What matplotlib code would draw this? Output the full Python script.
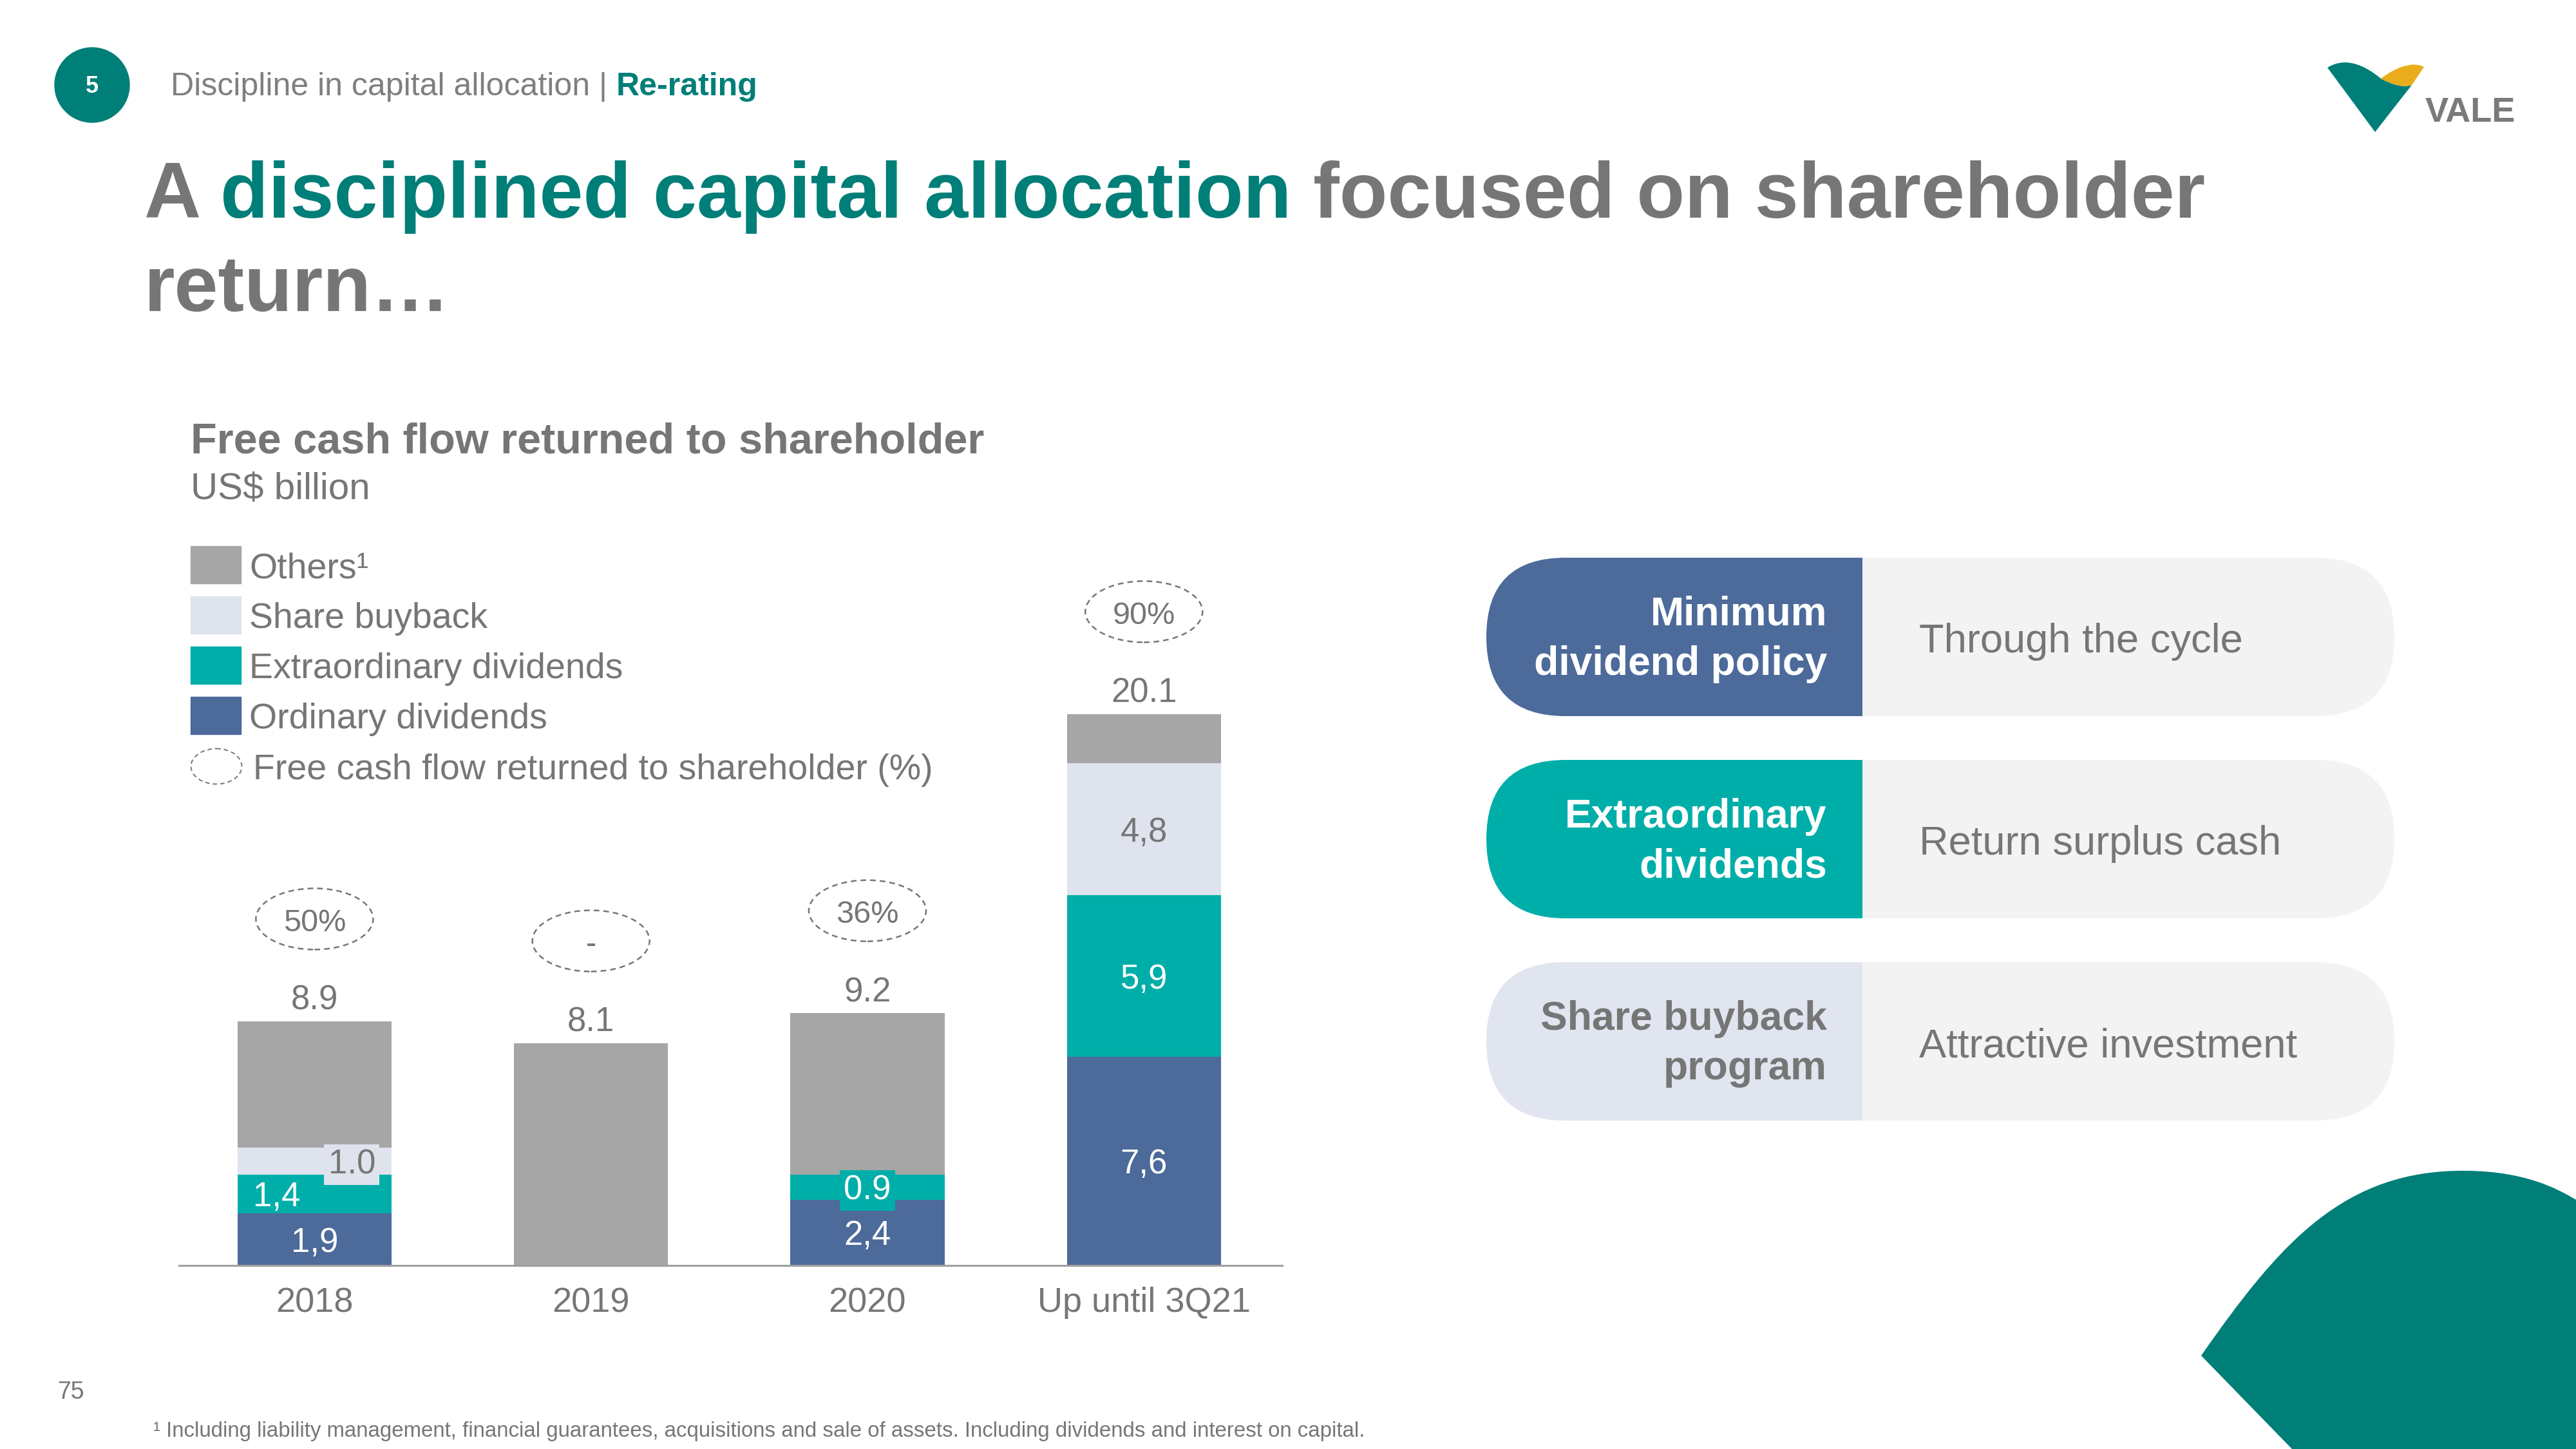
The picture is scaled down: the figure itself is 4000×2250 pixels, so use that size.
import matplotlib
matplotlib.use("Agg")
import matplotlib.pyplot as plt
import matplotlib.patches as mpatches
from matplotlib.path import Path

plt.rcParams["font.family"] = ["Liberation Sans", "DejaVu Sans"]

TEAL = "#007E78"
GRAY = "#767676"
LIGHT_GRAY = "#7F7F7F"
YELLOW = "#E9AD1C"

C_OTHERS = "#A6A6A6"
C_BUYBACK = "#DFE3EE"
C_EXTRA = "#00AEA9"
C_ORDINARY = "#4C6A9A"

# chart data (US$ billion)
categories = ["2018", "2019", "2020", "Up until 3Q21"]
ordinary = [1.9, 0.0, 2.4, 7.6]
extraordinary = [1.4, 0.0, 0.9, 5.9]
buyback = [1.0, 0.0, 0.0, 4.8]
others = [4.6, 8.1, 5.9, 1.8]
totals = [8.9, 8.1, 9.2, 20.1]
total_labels = ["8.9", "8.1", "9.2", "20.1"]
ordinary_labels = ["1,9", "", "2,4", "7,6"]
extra_labels = ["1,4", "", "0.9", "5,9"]
buyback_labels = ["1.0", "", "", "4,8"]
pct_labels = ["50%", "-", "36%", "90%"]

legend_labels = ["Others\u00b9", "Share buyback", "Extraordinary dividends", "Ordinary dividends"]
legend_colors = [C_OTHERS, C_BUYBACK, C_EXTRA, C_ORDINARY]

pill_titles = ["Minimum\ndividend policy", "Extraordinary\ndividends", "Share buyback\nprogram"]
pill_texts = ["Through the cycle", "Return surplus cash", "Attractive investment"]
pill_colors = [C_ORDINARY, C_EXTRA, "#E1E5EF"]
pill_title_colors = ["white", "white", GRAY]

fig = plt.figure(figsize=(40, 22.5), dpi=100)
fig.patch.set_facecolor("white")

# page layer in pixel coordinates
bg = fig.add_axes([0, 0, 1, 1])
bg.set_xlim(0, 4000)
bg.set_ylim(2250, 0)
bg.axis("off")

renderer = fig.canvas.get_renderer()


def text_width(s, **kw):
    t = bg.text(0, 0, s + "|", **kw)
    w1 = t.get_window_extent(renderer).width
    t.remove()
    t = bg.text(0, 0, "|", **kw)
    w2 = t.get_window_extent(renderer).width
    t.remove()
    return w1 - w2


def text_runs(x, y, parts, **kw):
    for s, color, weight in parts:
        bg.text(x, y, s, color=color, fontweight=weight, va="baseline", **kw)
        x += text_width(s, fontweight=weight, **kw)


# header
bg.add_patch(mpatches.Circle((143, 132), 58, color=TEAL))
bg.text(143, 134, "5", color="white", fontsize=26, fontweight="bold", ha="center", va="center")
text_runs(265, 148, [("Discipline in capital allocation | ", LIGHT_GRAY, "normal"),
                     ("Re-rating", TEAL, "bold")], fontsize=36)

# title
text_runs(224, 338, [("A ", GRAY, "bold"),
                     ("disciplined capital allocation", TEAL, "bold"),
                     (" focused on shareholder", GRAY, "bold")], fontsize=88)
bg.text(224, 483, "return\u2026", color=GRAY, fontsize=88, fontweight="bold", va="baseline")

# logo
teal_v = Path([(3614, 105), (3635, 92), (3662, 93), (3697, 122),
               (3712, 130), (3730, 137), (3745, 132),
               (3688, 205), (3614, 105)],
              [Path.MOVETO, Path.CURVE4, Path.CURVE4, Path.CURVE4,
               Path.CURVE4, Path.CURVE4, Path.CURVE4,
               Path.LINETO, Path.CLOSEPOLY])
bg.add_patch(mpatches.PathPatch(teal_v, fc=TEAL, ec="none"))
yellow_w = Path([(3697, 122), (3718, 106), (3745, 94), (3764, 104),
                 (3745, 132), (3730, 137), (3712, 130), (3697, 122), (3697, 122)],
                [Path.MOVETO, Path.CURVE4, Path.CURVE4, Path.CURVE4,
                 Path.LINETO, Path.CURVE4, Path.CURVE4, Path.CURVE4, Path.CLOSEPOLY])
bg.add_patch(mpatches.PathPatch(yellow_w, fc=YELLOW, ec="none"))
bg.text(3836, 175, "VALE", color="#7A7A7A", fontsize=39, fontweight="bold", ha="center", va="center")

# corner shape
corner = Path([(3418, 2105), (3540, 1930), (3640, 1815), (3831, 1818),
               (3920, 1819), (3970, 1845), (4000, 1863),
               (4000, 2250), (3559, 2250), (3418, 2105)],
              [Path.MOVETO, Path.CURVE4, Path.CURVE4, Path.CURVE4,
               Path.CURVE4, Path.CURVE4, Path.CURVE4,
               Path.LINETO, Path.LINETO, Path.CLOSEPOLY])
bg.add_patch(mpatches.PathPatch(corner, fc=TEAL, ec="none"))

# chart title and unit
bg.text(296, 703, "Free cash flow returned to shareholder", color=GRAY, fontsize=48,
        fontweight="bold", va="baseline")
bg.text(296, 775, "US$ billion", color=GRAY, fontsize=42, va="baseline")

# legend
for k, (lab, col) in enumerate(zip(legend_labels, legend_colors)):
    yc = 877 + k * 78
    bg.add_patch(mpatches.Rectangle((296, yc - 29), 78, 58, color=col))
    bg.text(387, yc + 6, lab, color=GRAY, fontsize=40, va="center")
bg.add_patch(mpatches.Ellipse((336, 1190), 79, 55, fc="none", ec=GRAY, lw=1.4,
                              linestyle=(0, (3.5, 2.5))))
bg.text(393, 1196, "Free cash flow returned to shareholder (%)", color=GRAY, fontsize=40, va="center")

# pills on the right
for k in range(3):
    top = 866 + k * 314
    h = 246
    base = mpatches.FancyBboxPatch((2308, top), 3718 - 2308, h,
                                   boxstyle="round,pad=0,rounding_size=123",
                                   fc="#F3F3F3", ec="none")
    bg.add_patch(base)
    left = mpatches.FancyBboxPatch((2308, top), 900, h,
                                   boxstyle="round,pad=0,rounding_size=123",
                                   fc=pill_colors[k], ec="none")
    bg.add_patch(left)
    clip = mpatches.Rectangle((2308, top), 2892 - 2308, h)
    clip.set_transform(bg.transData)
    left.set_clip_path(clip)
    bg.text(2837, top + h / 2 + 4, pill_titles[k], color=pill_title_colors[k], fontsize=45,
            fontweight="bold", ha="right", va="center", multialignment="right", linespacing=1.4)
    bg.text(2980, top + h / 2 + 8, pill_texts[k], color=GRAY, fontsize=45.5, va="center")

# footnote and page number
bg.text(89, 2162, "75", color=GRAY, fontsize=27, va="center")
bg.text(238, 2222, "\u00b9 Including liability management, financial guarantees, acquisitions and sale "
        "of assets. Including dividends and interest on capital.", color=GRAY, fontsize=23.8, va="center")

# bar chart
ax = fig.add_axes([278 / 4000, 285 / 2250, 1712.9 / 4000, 1022.4 / 2250])
ax.set_facecolor("none")
ax.set_xlim(-0.49, 3.5)
ax.set_ylim(0, 24)

x = list(range(len(categories)))
w = 0.557
b1 = ordinary
b2 = [a + b for a, b in zip(b1, extraordinary)]
b3 = [a + b for a, b in zip(b2, buyback)]
ax.bar(x, ordinary, w, color=C_ORDINARY, zorder=2)
ax.bar(x, extraordinary, w, bottom=b1, color=C_EXTRA, zorder=2)
ax.bar(x, buyback, w, bottom=b2, color=C_BUYBACK, zorder=2)
ax.bar(x, others, w, bottom=b3, color=C_OTHERS, zorder=2)

lab_fs = 38
dy = -0.12  # visual centring of digits
for i in x:
    if ordinary_labels[i]:
        ax.text(i, ordinary[i] / 2 + dy, ordinary_labels[i], color="white", fontsize=lab_fs,
                ha="center", va="center", zorder=4)
    if extra_labels[i]:
        dx = -0.137 if i == 0 else 0
        box = dict(boxstyle="square,pad=0.12", fc=C_EXTRA, ec="none") if i == 2 else None
        ax.text(i + dx, b1[i] + extraordinary[i] / 2 + dy, extra_labels[i], color="white",
                fontsize=lab_fs, ha="center", va="center", bbox=box, zorder=4)
    if buyback_labels[i]:
        dx = 0.135 if i == 0 else 0
        box = dict(boxstyle="square,pad=0.12", fc=C_BUYBACK, ec="none") if i == 0 else None
        ax.text(i + dx, b2[i] + buyback[i] / 2 + dy, buyback_labels[i], color=GRAY,
                fontsize=lab_fs, ha="center", va="center", bbox=box, zorder=4)
    ax.text(i, totals[i] + 0.75, total_labels[i], color=GRAY, fontsize=lab_fs,
            ha="center", va="center", clip_on=False)
    ax.add_patch(mpatches.Ellipse((i, totals[i] + 3.73), 0.424, 2.23, fc="none", ec=GRAY,
                                  lw=1.8, linestyle=(0, (3.5, 2.5)), clip_on=False))
    ax.text(i, totals[i] + 3.73 - 0.15, pct_labels[i], color=GRAY, fontsize=35,
            ha="center", va="center", clip_on=False)

for s in ["top", "left", "right"]:
    ax.spines[s].set_visible(False)
ax.spines["bottom"].set_color("#A0A0A0")
ax.spines["bottom"].set_linewidth(2.2)
ax.set_yticks([])
ax.set_xticks(x, categories)
ax.tick_params(axis="x", length=0, pad=24, labelsize=39, labelcolor=GRAY)

fig.savefig("out.png", dpi=100, facecolor="white")
